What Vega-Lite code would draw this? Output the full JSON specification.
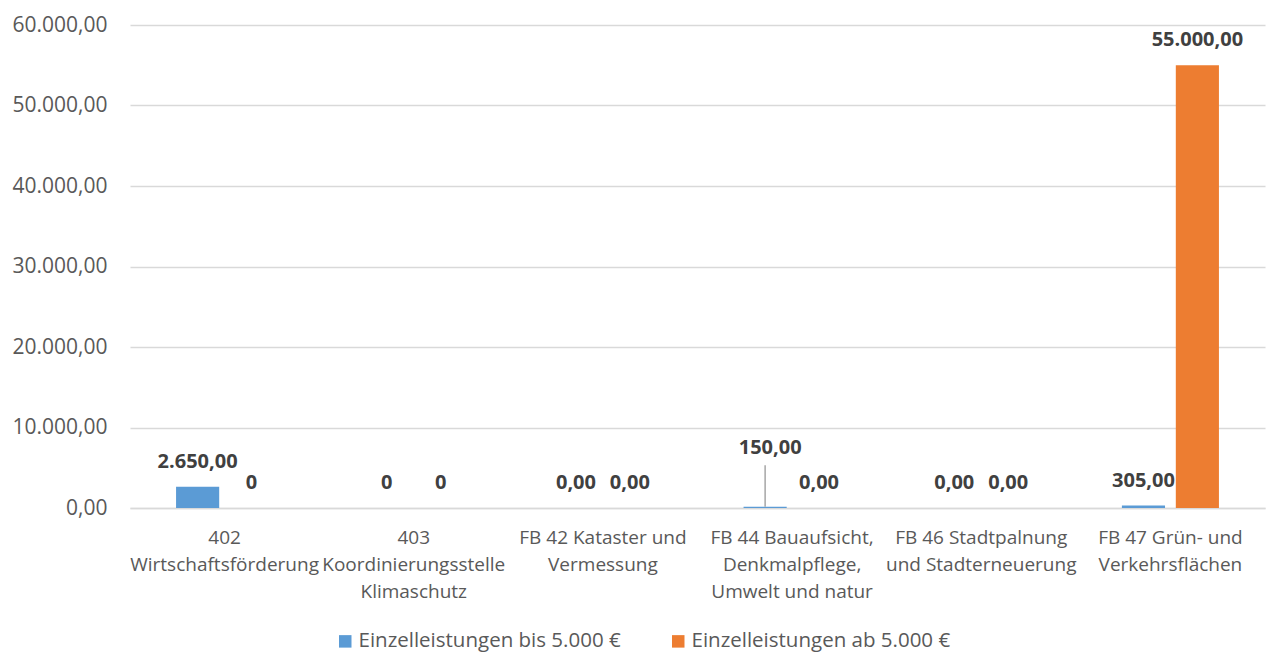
{
  "$schema": "https://vega.github.io/schema/vega-lite/v6.json",
  "width": 1135,
  "height": 483,
  "autosize": "none",
  "padding": {"left": 130, "top": 25, "right": 5, "bottom": 145},
  "background": "white",
  "data": {
    "values": [
      {"bereich": "402 Wirtschaftsförderung", "serie": "Einzelleistungen bis 5.000 €", "wert": 2650, "label": "2.650,00"},
      {"bereich": "402 Wirtschaftsförderung", "serie": "Einzelleistungen ab 5.000 €", "wert": 0, "label": "0"},
      {"bereich": "403 Koordinierungsstelle Klimaschutz", "serie": "Einzelleistungen bis 5.000 €", "wert": 0, "label": "0"},
      {"bereich": "403 Koordinierungsstelle Klimaschutz", "serie": "Einzelleistungen ab 5.000 €", "wert": 0, "label": "0"},
      {"bereich": "FB 42 Kataster und Vermessung", "serie": "Einzelleistungen bis 5.000 €", "wert": 0, "label": "0,00"},
      {"bereich": "FB 42 Kataster und Vermessung", "serie": "Einzelleistungen ab 5.000 €", "wert": 0, "label": "0,00"},
      {"bereich": "FB 44 Bauaufsicht, Denkmalpflege, Umwelt und natur", "serie": "Einzelleistungen bis 5.000 €", "wert": 150, "label": "150,00"},
      {"bereich": "FB 44 Bauaufsicht, Denkmalpflege, Umwelt und natur", "serie": "Einzelleistungen ab 5.000 €", "wert": 0, "label": "0,00"},
      {"bereich": "FB 46 Stadtpalnung und Stadterneuerung", "serie": "Einzelleistungen bis 5.000 €", "wert": 0, "label": "0,00"},
      {"bereich": "FB 46 Stadtpalnung und Stadterneuerung", "serie": "Einzelleistungen ab 5.000 €", "wert": 0, "label": "0,00"},
      {"bereich": "FB 47 Grün- und Verkehrsflächen", "serie": "Einzelleistungen bis 5.000 €", "wert": 305, "label": "305,00"},
      {"bereich": "FB 47 Grün- und Verkehrsflächen", "serie": "Einzelleistungen ab 5.000 €", "wert": 55000, "label": "55.000,00"}
    ]
  },
  "encoding": {
    "x": {
      "field": "bereich",
      "type": "nominal",
      "sort": null,
      "scale": {"paddingInner": 0.487, "paddingOuter": 0.2435},
      "axis": {
        "title": null,
        "ticks": false,
        "domainColor": "#d9d9d9",
        "domainWidth": 1.3,
        "labelAngle": 0,
        "labelFont": "Open Sans",
        "labelFontSize": 19,
        "labelColor": "#595959",
        "labelPadding": 20,
        "labelLineHeight": 27,
        "labelLimit": 300,
        "labelOverlap": false,
        "labelExpr": "datum.value == '402 Wirtschaftsförderung' ? ['402', 'Wirtschaftsförderung'] : datum.value == '403 Koordinierungsstelle Klimaschutz' ? ['403', 'Koordinierungsstelle', 'Klimaschutz'] : datum.value == 'FB 42 Kataster und Vermessung' ? ['FB 42 Kataster und', 'Vermessung'] : datum.value == 'FB 44 Bauaufsicht, Denkmalpflege, Umwelt und natur' ? ['FB 44 Bauaufsicht,', 'Denkmalpflege,', 'Umwelt und natur'] : datum.value == 'FB 46 Stadtpalnung und Stadterneuerung' ? ['FB 46 Stadtpalnung', 'und Stadterneuerung'] : ['FB 47 Grün- und', 'Verkehrsflächen']"
      }
    },
    "xOffset": {
      "field": "serie",
      "type": "nominal",
      "sort": ["Einzelleistungen bis 5.000 €", "Einzelleistungen ab 5.000 €"],
      "scale": {"paddingInner": 0.2}
    },
    "y": {
      "field": "wert",
      "type": "quantitative",
      "scale": {"domain": [0, 60000], "nice": false},
      "axis": {
        "title": null,
        "values": [0, 10000, 20000, 30000, 40000, 50000, 60000],
        "format": ",.2f",
        "domain": false,
        "ticks": false,
        "gridColor": "#d9d9d9",
        "gridWidth": 1.3,
        "labelFont": "Open Sans",
        "labelFontSize": 21,
        "labelColor": "#595959",
        "labelPadding": 23
      }
    }
  },
  "layer": [
    {
      "mark": {"type": "bar"},
      "encoding": {
        "color": {
          "field": "serie",
          "type": "nominal",
          "scale": {
            "domain": ["Einzelleistungen bis 5.000 €", "Einzelleistungen ab 5.000 €"],
            "range": ["#5B9BD5", "#ED7D31"]
          },
          "legend": {
            "title": null,
            "orient": "none",
            "legendX": 205,
            "legendY": 606,
            "direction": "horizontal",
            "columns": 2,
            "columnPadding": 47,
            "padding": 0,
            "symbolType": "square",
            "symbolSize": 156,
            "symbolStrokeWidth": 0,
            "labelOffset": 3,
            "labelFont": "Open Sans",
            "labelFontSize": 20.5,
            "labelColor": "#595959",
            "labelLimit": 400
          }
        }
      }
    },
    {
      "transform": [{"filter": "datum.label != '150,00'"}],
      "mark": {"type": "text", "baseline": "middle", "dy": -25, "font": "Open Sans", "fontSize": 20, "fontWeight": "bold", "color": "#404040"},
      "encoding": {"text": {"field": "label"}}
    },
    {
      "transform": [{"filter": "datum.label == '150,00'"}],
      "mark": {"type": "text", "baseline": "middle", "dy": -59, "dx": 5, "font": "Open Sans", "fontSize": 20, "fontWeight": "bold", "color": "#404040"},
      "encoding": {"text": {"field": "label"}}
    },
    {
      "transform": [{"filter": "datum.label == '150,00'"}],
      "mark": {"type": "rule", "color": "#a6a6a6", "strokeWidth": 1.5},
      "encoding": {"y2": {"datum": 5300}}
    }
  ],
  "config": {
    "view": {"stroke": null},
    "locale": {"number": {"decimal": ",", "thousands": ".", "grouping": [3], "currency": ["", " €"]}}
  }
}
